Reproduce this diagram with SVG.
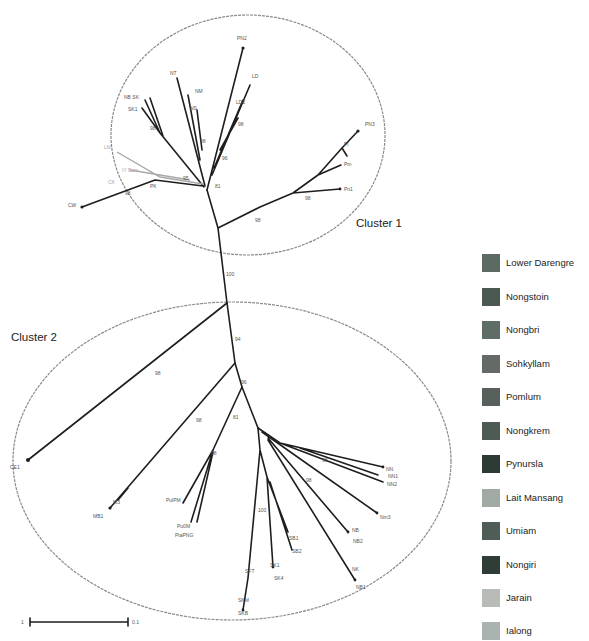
<svg xmlns="http://www.w3.org/2000/svg" width="589" height="641" viewBox="0 0 589 641">
<style>
.br{stroke:#1e1e1e;stroke-width:1.6;fill:none;stroke-linecap:round;stroke-linejoin:round}
.brg{stroke:#a8a8a8;stroke-width:1.4;fill:none}
.ell{fill:none;stroke:#8a8a8a;stroke-width:1.2;stroke-dasharray:3 1}
.dot{fill:#1e1e1e}
.lb{font-family:"Liberation Sans",Arial,sans-serif;font-size:5px;fill:#555}
.lbg{font-family:"Liberation Sans",Arial,sans-serif;font-size:5px;fill:#aaa}
.cl{font-family:"Liberation Sans",Arial,sans-serif;font-size:11.5px;fill:#222}
.lg{font-family:"Liberation Sans",Arial,sans-serif;font-size:9.5px;fill:#222}
</style>
<rect width="589" height="641" fill="#fff"/>
<g id="clusters">
<ellipse class="ell" cx="248" cy="135" rx="137" ry="120"/>
<ellipse class="ell" cx="232" cy="461" rx="219" ry="159"/>
<text class="cl" x="356" y="227">Cluster 1</text>
<text class="cl" x="11" y="341">Cluster 2</text>
</g>
<g id="connectors">
<path class="br" d="M207 190 L218 228 L227 303"/>
<path class="br" d="M218 228 L260 207 L293 193 L318 175 L342 148 L358 131 M293 193 L340 189 M318 175 L341 165 M342 148 L347 156"/>
<path class="br" d="M207 190 L243 48 M212 175 L250 85 M214 168 L243 100 M220 150 L238 118"/>
<path class="br" d="M205 186 L177 78 M200 160 L188 95 M202 150 L197 110"/>
<path class="br" d="M204 187 L160 133 L145 100 M160 133 L142 108 M163 136 L150 98"/>
<path class="brg" d="M203 184 L160 177 L117 152 M190 180 L130 170"/>
<path class="br" d="M203 186 L155 180 L82 207"/>
<path class="br" d="M227 303 L28 460"/>
<path class="br" d="M227 303 L235 363 L242 387 L258 428"/>
<path class="br" d="M235 363 L110 508 M128 488 L118 500"/>
<path class="br" d="M242 387 L213 450 L183 503 M213 450 L191 522 M213 452 L197 522"/>
<path class="br" d="M258 428 L280 443 L383 467 M280 443 L383 482 M300 448 L378 475"/>
<path class="br" d="M262 432 L377 513 M268 438 L348 532 M268 440 L355 580"/>
<path class="br" d="M258 428 L260 450 L248 578 L243 610 M260 450 L267 477 L273 567 M267 477 L288 532 M270 482 L292 550"/>
</g>
<g id="leaves">
<circle class="dot" cx="358" cy="131" r="1.6"/><circle class="dot" cx="340" cy="189" r="1.4"/>
<circle class="dot" cx="243" cy="48" r="1.6"/><circle class="dot" cx="82" cy="207" r="1.6"/>
<circle class="dot" cx="28" cy="460" r="2"/><circle class="dot" cx="110" cy="508" r="1.6"/>
<circle class="dot" cx="383" cy="467" r="1.4"/><circle class="dot" cx="377" cy="513" r="1.4"/>
<circle class="dot" cx="348" cy="532" r="1.4"/><circle class="dot" cx="355" cy="580" r="1.4"/>
<circle class="dot" cx="243" cy="610" r="1.4"/><circle class="dot" cx="273" cy="567" r="1.4"/>
</g>
<g id="labels">
<text class="lb" x="365" y="126">PN3</text><text class="lb" x="344" y="191">Pn1</text>
<text class="lb" x="344" y="166">Pm</text><text class="lb" x="344" y="146">Pl</text>
<text class="lb" x="255" y="222">98</text><text class="lb" x="305" y="200">98</text>
<text class="lb" x="237" y="40">PN2</text><text class="lb" x="252" y="78">LD</text>
<text class="lb" x="236" y="104">LD2</text><text class="lb" x="238" y="126">98</text>
<text class="lb" x="222" y="160">96</text><text class="lb" x="215" y="188">81</text>
<text class="lb" x="170" y="75">NT</text><text class="lb" x="195" y="93">NM</text>
<text class="lb" x="190" y="110">NS</text><text class="lb" x="200" y="143">98</text>
<text class="lb" x="124" y="99">NB SK</text><text class="lb" x="128" y="111">SK1</text>
<text class="lb" x="150" y="130">98</text><text class="lb" x="183" y="180">95</text>
<text class="lbg" x="104" y="149">LM</text><text class="lbg" x="122" y="172">IY Bars</text>
<text class="lbg" x="108" y="184">CK</text>
<text class="lb" x="68" y="207">CW</text><text class="lb" x="125" y="195">98</text>
<text class="lb" x="150" y="188">PK</text>
<text class="lb" x="226" y="276">100</text><text class="lb" x="235" y="341">94</text>
<text class="lb" x="241" y="384">96</text><text class="lb" x="155" y="375">98</text>
<text class="lb" x="196" y="422">98</text><text class="lb" x="233" y="419">81</text>
<text class="lb" x="10" y="469">CE1</text><text class="lb" x="93" y="518">MB1</text>
<text class="lb" x="113" y="504">M3</text>
<text class="lb" x="166" y="502">PulPM</text><text class="lb" x="177" y="528">Pu0M</text>
<text class="lb" x="175" y="537">PtaPNG</text><text class="lb" x="211" y="455">98</text>
<text class="lb" x="386" y="471">NN</text><text class="lb" x="388" y="478">NN1</text>
<text class="lb" x="387" y="486">NN2</text><text class="lb" x="380" y="519">Nm3</text>
<text class="lb" x="352" y="532">NB</text><text class="lb" x="353" y="543">NB2</text>
<text class="lb" x="352" y="571">NK</text><text class="lb" x="356" y="589">NB1</text>
<text class="lb" x="245" y="573">SFT</text><text class="lb" x="238" y="602">SKM</text>
<text class="lb" x="238" y="615">SKB</text><text class="lb" x="270" y="567">SK1</text>
<text class="lb" x="274" y="580">SK4</text><text class="lb" x="289" y="540">SB1</text>
<text class="lb" x="292" y="553">SB2</text><text class="lb" x="258" y="512">100</text>
<text class="lb" x="322" y="462">98</text><text class="lb" x="306" y="482">98</text>
</g>
<g id="scale">
<path class="br" d="M30 622 L128 622 M30 618 L30 626 M128 618 L128 626" stroke-width="1.2"/>
<text class="lb" x="21" y="624" font-size="6">1</text>
<text class="lb" x="132" y="624" font-size="6">0.1</text>
</g>
<g id="legend">
<g id="lg1"><rect x="482" y="254" width="18" height="18" fill="#5b6b62"/><text class="lg" x="506" y="266">Lower Darengre</text></g>
<g id="lg2"><rect x="482" y="288" width="18" height="18" fill="#4a5a52"/><text class="lg" x="506" y="300">Nongstoin</text></g>
<g id="lg3"><rect x="482" y="321" width="18" height="18" fill="#5e6e66"/><text class="lg" x="506" y="333">Nongbri</text></g>
<g id="lg4"><rect x="482" y="355" width="18" height="18" fill="#646a66"/><text class="lg" x="506" y="367">Sohkyllam</text></g>
<g id="lg5"><rect x="482" y="388" width="18" height="18" fill="#58605b"/><text class="lg" x="506" y="400">Pomlum</text></g>
<g id="lg6"><rect x="482" y="422" width="18" height="18" fill="#4e5a54"/><text class="lg" x="506" y="434">Nongkrem</text></g>
<g id="lg7"><rect x="482" y="455" width="18" height="18" fill="#2e3a34"/><text class="lg" x="506" y="467">Pynursla</text></g>
<g id="lg8"><rect x="482" y="489" width="18" height="18" fill="#a2aaa4"/><text class="lg" x="506" y="501">Lait Mansang</text></g>
<g id="lg9"><rect x="482" y="522" width="18" height="18" fill="#4e5e56"/><text class="lg" x="506" y="534">Umiam</text></g>
<g id="lg10"><rect x="482" y="556" width="18" height="18" fill="#2f3d36"/><text class="lg" x="506" y="568">Nongiri</text></g>
<g id="lg11"><rect x="482" y="589" width="18" height="18" fill="#b8bcb9"/><text class="lg" x="506" y="601">Jarain</text></g>
<g id="lg12"><rect x="482" y="622" width="18" height="18" fill="#aab2b0"/><text class="lg" x="506" y="634">Ialong</text></g>
</g>
</svg>
